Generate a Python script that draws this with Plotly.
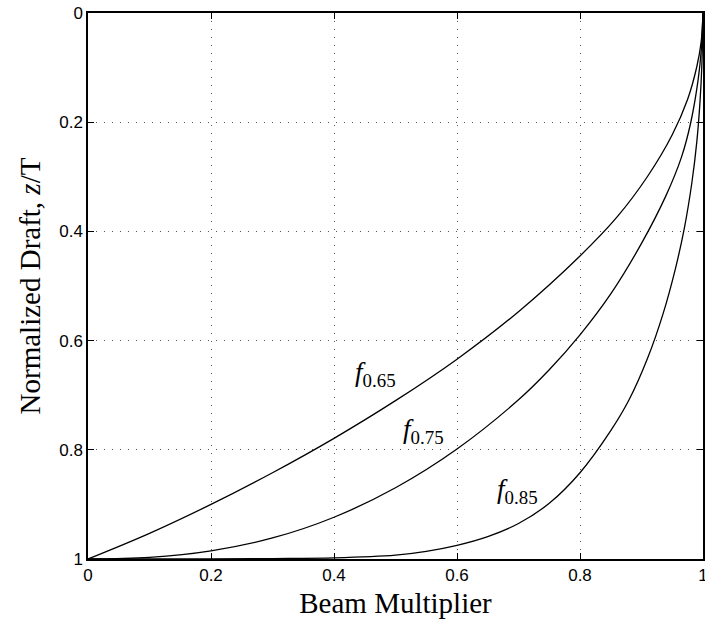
import plotly.graph_objects as go

# f_0.65 curve: beam multiplier vs normalized draft
beam_065 = [0.0, 0.1, 0.2, 0.3, 0.4, 0.5, 0.6, 0.7, 0.8, 0.86, 0.91, 0.95, 0.975, 0.99, 0.997, 1.0]
draft_065 = [1.0, 0.953, 0.900, 0.842, 0.779, 0.710, 0.634, 0.547, 0.445, 0.374, 0.299, 0.223, 0.158, 0.098, 0.053, 0.0]

# f_0.75 curve
beam_075 = [0.0, 0.1, 0.2, 0.3, 0.4, 0.5, 0.6, 0.7, 0.75, 0.8, 0.85, 0.9, 0.94, 0.965, 0.98, 0.992, 0.997, 1.0]
draft_075 = [1.0, 0.997, 0.985, 0.9615, 0.9235, 0.8695, 0.7985, 0.7085, 0.6535, 0.5895, 0.5145, 0.422, 0.334, 0.264, 0.201, 0.123, 0.070, 0.0]

# f_0.85 curve
beam_085 = [0.0, 0.2, 0.3, 0.4, 0.5, 0.55, 0.6, 0.65, 0.7, 0.75, 0.8, 0.85, 0.88, 0.91, 0.935, 0.955, 0.97, 0.982, 0.99, 0.995, 0.998, 1.0]
draft_085 = [1.0, 0.9998, 0.9992, 0.998, 0.993, 0.986, 0.975, 0.959, 0.935, 0.898, 0.842, 0.765, 0.708, 0.632, 0.551, 0.469, 0.392, 0.310, 0.235, 0.165, 0.100, 0.0]

labels = ["<i>f</i><sub>0.65</sub>", "<i>f</i><sub>0.75</sub>", "<i>f</i><sub>0.85</sub>"]
label_x = [0.467, 0.546, 0.698]
label_y = [0.662, 0.765, 0.875]

tick_vals = [0, 0.2, 0.4, 0.6, 0.8, 1]
tick_text = ["0", "0.2", "0.4", "0.6", "0.8", "1"]

fig = go.Figure()
for bx, dy in [(beam_065, draft_065), (beam_075, draft_075), (beam_085, draft_085)]:
    fig.add_trace(go.Scatter(x=bx, y=dy, mode="lines",
                             line=dict(color="black", width=1.3, shape="spline", smoothing=1.0),
                             showlegend=False, hoverinfo="skip"))

serif = "Liberation Serif"
for t, lx, ly in zip(labels, label_x, label_y):
    fig.add_annotation(x=lx, y=ly, xref="x", yref="y", text=t, showarrow=False,
                       font=dict(family=serif, size=27, color="black"),
                       xanchor="center", yanchor="middle")

axis_common = dict(
    showgrid=True, gridcolor="#555555", gridwidth=1, griddash="1px,7px",
    showline=True, linecolor="black", linewidth=1.5, mirror="ticks",
    ticks="inside", ticklen=6, tickcolor="black", tickwidth=1,
    zeroline=False, tickvals=tick_vals, ticktext=tick_text,
    ticklabeloverflow="allow",
    tickfont=dict(family="Liberation Sans", size=17, color="black"),
)

fig.update_xaxes(range=[0, 1], title=dict(text="Beam Multiplier", standoff=9,
                 font=dict(family=serif, size=29, color="black")), **axis_common)
fig.update_yaxes(range=[1, 0], title=dict(text="Normalized Draft, <i>z</i>/T", standoff=10,
                 font=dict(family=serif, size=29, color="black")), **axis_common)

fig.update_layout(
    width=705, height=626,
    margin=dict(l=88, r=2, t=13, b=67, autoexpand=False),
    paper_bgcolor="white", plot_bgcolor="white",
)

fig.write_html("out.html")
